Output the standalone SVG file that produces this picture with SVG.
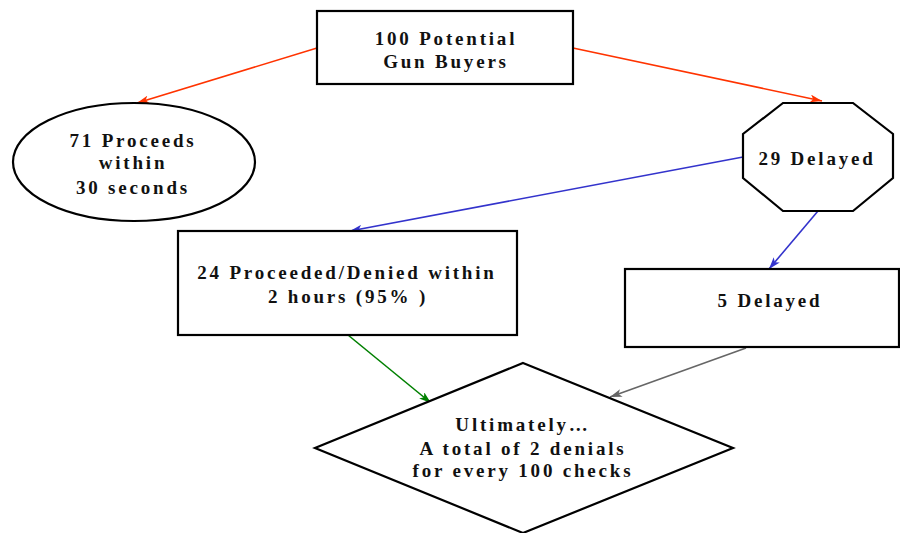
<svg xmlns="http://www.w3.org/2000/svg" width="900" height="533" viewBox="0 0 900 533">
<style>
.shape{fill:#fff;stroke:#000;stroke-width:2.2}
.t{font-family:"Liberation Serif","Times New Roman",serif;font-weight:bold;font-size:19px;letter-spacing:2.8px;fill:#111;text-anchor:middle}
.c{fill:none;stroke-width:1.6}
</style>
<defs>
<marker id="aR" viewBox="0 0 12 8" refX="12" refY="4" markerWidth="12" markerHeight="8" markerUnits="userSpaceOnUse" orient="auto"><path d="M0,0 L12,4 L0,8 L3,4 z" fill="#FF3300"/></marker>
<marker id="aB" viewBox="0 0 12 8" refX="12" refY="4" markerWidth="12" markerHeight="8" markerUnits="userSpaceOnUse" orient="auto"><path d="M0,0 L12,4 L0,8 L3,4 z" fill="#3333CC"/></marker>
<marker id="aG" viewBox="0 0 12 8" refX="12" refY="4" markerWidth="12" markerHeight="8" markerUnits="userSpaceOnUse" orient="auto"><path d="M0,0 L12,4 L0,8 L3,4 z" fill="#008000"/></marker>
<marker id="aY" viewBox="0 0 12 8" refX="12" refY="4" markerWidth="12" markerHeight="8" markerUnits="userSpaceOnUse" orient="auto"><path d="M0,0 L12,4 L0,8 L3,4 z" fill="#666666"/></marker>
</defs>
<rect width="900" height="533" fill="#fff"/>
<g id="connectors">
<line class="c" x1="317" y1="48" x2="137" y2="103" stroke="#FF3300" marker-end="url(#aR)"/>
<line class="c" x1="573" y1="48" x2="822" y2="101" stroke="#FF3300" marker-end="url(#aR)"/>
<line class="c" x1="743" y1="157" x2="350" y2="231" stroke="#3333CC" marker-end="url(#aB)"/>
<line class="c" x1="818" y1="211" x2="769" y2="269" stroke="#3333CC" marker-end="url(#aB)"/>
<line class="c" x1="348" y1="335" x2="431" y2="403" stroke="#008000" marker-end="url(#aG)"/>
<line class="c" x1="746" y1="348" x2="610" y2="397" stroke="#666666" marker-end="url(#aY)"/>
</g>
<g id="n1">
<rect class="shape" x="317" y="11" width="256" height="73"/>
<text class="t" x="446" y="45">100 Potential</text>
<text class="t" x="446" y="68">Gun Buyers</text>
</g>
<g id="n2">
<ellipse class="shape" cx="134" cy="162" rx="121" ry="59"/>
<text class="t" x="133" y="147">71 Proceeds</text>
<text class="t" x="133" y="169">within</text>
<text class="t" x="133" y="194">30 seconds</text>
</g>
<g id="n3">
<polygon class="shape" points="783,103 853,103 893,134 893,178 853,211 783,211 743,178 743,134"/>
<text class="t" x="817" y="165">29 Delayed</text>
</g>
<g id="n4">
<rect class="shape" x="178" y="231" width="339" height="104"/>
<text class="t" x="347" y="279">24 Proceeded/Denied within</text>
<text class="t" x="348" y="303">2 hours (95% )</text>
</g>
<g id="n5">
<rect class="shape" x="625" y="269" width="274" height="78"/>
<text class="t" x="770" y="307">5 Delayed</text>
</g>
<g id="n6">
<polygon class="shape" points="523,363 733,448 523,533 315,448"/>
<text class="t" x="523" y="431">Ultimately…</text>
<text class="t" x="523" y="455">A total of 2 denials</text>
<text class="t" x="523" y="477">for every 100 checks</text>
</g>
</svg>
